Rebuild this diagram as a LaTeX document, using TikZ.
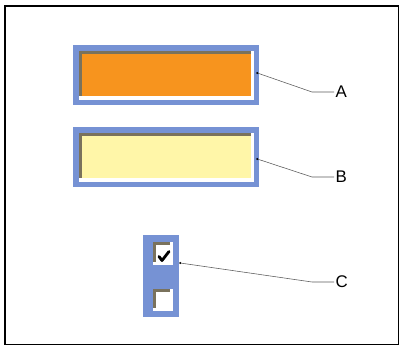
\documentclass[tikz,border=0pt]{standalone}
\usepackage{fontspec}
\setmainfont{Liberation Sans}
\definecolor{uiblue}{RGB}{118,146,212}
\definecolor{uiorange}{RGB}{247,148,30}
\definecolor{uiyellow}{RGB}{255,246,168}
\definecolor{uibevel}{RGB}{122,114,92}
\definecolor{uileader}{RGB}{90,90,90}
\usetikzlibrary{calc}

\begin{document}
\begin{tikzpicture}[x=0.025cm,y=-0.025cm,
  uiframe/.style={fill=uiblue,inner sep=0pt,minimum width=4.65cm,minimum height=1.5cm},
  uiwell/.style={fill=white,inner sep=0pt,minimum width=4.375cm,minimum height=1.225cm},
  uipanel/.style={fill=uiblue,inner sep=0pt,minimum width=0.9cm,minimum height=2.05cm},
  uicheck/.style={fill=white,inner sep=0pt,minimum width=0.5cm,minimum height=0.55cm},
  leader/.style={draw=uileader,line width=0.4pt},
  callout/.style={font=\fontsize{12}{14}\selectfont,inner sep=1pt,anchor=west}
]
  \useasboundingbox (0,0) rectangle (400,347);
  \draw[line width=0.8pt] (5,6) rectangle (398.5,344.5);

  % Field A
  \node[uiframe] (frameA) at (166,75) {};
  \node[uiwell] (wellA) at (166.5,75.5) {};
  \fill[uibevel] (wellA.north west) rectangle ($(wellA.south east)+(-3,-4)$);
  \fill[uiorange] ($(wellA.north west)+(3,3)$) rectangle ($(wellA.south east)+(-3,-4)$);

  % Field B
  \node[uiframe] (frameB) at (166,157) {};
  \node[uiwell] (wellB) at (166.5,157.5) {};
  \fill[uibevel] (wellB.north west) rectangle ($(wellB.south east)+(-3,-4)$);
  \fill[uiyellow] ($(wellB.north west)+(3,3)$) rectangle ($(wellB.south east)+(-3,-4)$);

  % Check boxes
  \node[uipanel] (checkPanel) at (161,276) {};
  \node[uicheck] (checkOne) at (163,253.5) {};
  \node[uicheck] (checkTwo) at (163,300) {};
  \foreach \c in {checkOne,checkTwo}{
    \fill[uibevel] (\c.north west) rectangle ($(\c.south east)+(-3,-3)$);
    \fill[white] ($(\c.north west)+(3,3)$) rectangle ($(\c.south east)+(-3,-3)$);
  }
  \draw[line width=2pt,line cap=round,line join=round]
    ($(checkOne.center)+(-4,3)$) -- ($(checkOne.center)+(-1,7)$) -- ($(checkOne.center)+(6,-2)$);

  % Callouts
  \coordinate (dotA) at ($(frameA.east)+(-2,-2)$);
  \coordinate (dotB) at ($(frameB.east)+(-2,2)$);
  \coordinate (dotC) at ($(checkPanel.east)+(1,-13)$);
  \coordinate (elbowA) at (312,92);
  \coordinate (elbowB) at (312,177);
  \coordinate (elbowC) at (312,282);
  \node[callout] (labA) at (334,92) {A};
  \node[callout] (labB) at (334,177) {B};
  \node[callout] (labC) at (334,282) {C};
  \foreach \k in {A,B,C}{
    \draw[leader] (dot\k) -- (elbow\k) -- (lab\k.west);
    \fill (dot\k) circle (1.1);
  }
\end{tikzpicture}
\end{document}
